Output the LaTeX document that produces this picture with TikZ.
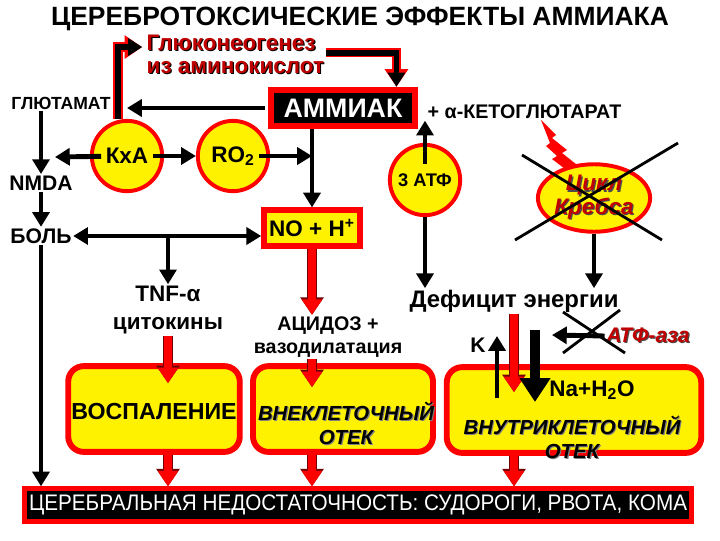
\documentclass[tikz,border=0pt]{standalone}
\usepackage{fontspec}
\setmainfont{Liberation Sans}
\usetikzlibrary{positioning,arrows.meta,shapes.geometric,calc}

\definecolor{dred}{RGB}{192,0,0}
\newcommand{\fsz}[2]{\fontsize{#1}{#2}\selectfont\bfseries}
\newcommand{\shd}[3]{\makebox[0pt][l]{\kern0.8pt\raisebox{-0.8pt}{\color{#1}#3}}{\color{#2}#3}}

\begin{document}
\begin{tikzpicture}[
  x=0.025cm, y=-0.025cm,
  lbl/.style    = {inner sep=1pt, align=center},
  ball/.style   = {circle, draw=red, line width=2.8pt, fill=yellow,
                   minimum size=50pt, inner sep=0pt},
  ybox/.style   = {rectangle, rounded corners=11pt, draw=red, line width=4.2pt,
                   fill=yellow, minimum height=61pt},
  dbox/.style   = {rectangle, draw=red, fill=black, text=white},
  blk/.style    = {line width=3.5pt, -{Triangle[width=12pt,length=10.5pt]}},
  blkk/.style   = {line width=3.5pt,
                   {Triangle[width=12pt,length=10.5pt]}-{Triangle[width=12pt,length=10.5pt]}},
  bigarr/.style = {line width=7pt, -{Triangle[width=21pt,length=17pt]}},
  rarr/.style   = {line width=6pt, red, -{Triangle[width=14pt,length=11pt]},
                   preaction={draw=red!45!black, line width=7.2pt,
                   -{Triangle[width=16pt,length=12.5pt]}}},
  garr/.style   = {line width=4pt, -{Triangle[width=12pt,length=10pt]},
                   preaction={draw=red, line width=6.5pt,
                   -{Triangle[width=16pt,length=12.5pt]}}},
  xline/.style  = {line width=2pt}
]
\useasboundingbox (0,0) rectangle (720,540);

% Title and upper labels
\node[lbl, font=\fsz{18.8}{20}] (title) at (360,19) {ЦЕРЕБРОТОКСИЧЕСКИЕ ЭФФЕКТЫ АММИАКА};
\node[lbl, align=left, anchor=north west, font=\fsz{16}{16.5}] (gluk) at (145,33)
  {\shd{black}{dred}{Глюконеогенез}\\\shd{black}{dred}{из аминокислот}};
\node[dbox, line width=4.2pt, minimum width=102pt, minimum height=26pt,
      font=\fsz{19}{19}] (ammiak) at (343,108) {АММИАК};
\node[lbl, anchor=west, font=\fsz{14}{14}] (keto) at (426,112) {+ α-КЕТОГЛЮТАРАТ};

\node[lbl, font=\fsz{12.5}{13}] (glut) at (61,103) {ГЛЮТАМАТ};
\node[lbl, font=\fsz{15}{15}] (nmda) at (41,183) {NMDA};
\node[lbl, font=\fsz{15}{15}] (bol)  at (41,236) {БОЛЬ};

% Circles
\node[ball, font=\fsz{16}{16}] (kxa) at (127,156) {КхА};
\node[ball, font=\fsz{16}{16}] (ro2) at (233,156) {RO\textsubscript{2}};
\node[ball, font=\fsz{13}{13}] (atf) at (425,180) {3 АТФ};

% Krebs cycle
\fill[red] (541,120) -- (556,135) -- (552,138) -- (567,150) -- (562,153) -- (586,172)
  -- (569,172) -- (552,159) -- (557,156) -- (546,146) -- (550,143) -- cycle;
\node[ellipse, draw=red, line width=2.8pt, fill=yellow, minimum width=76pt,
      minimum height=48pt, inner sep=0pt, align=center,
      font=\fsz{16}{17}\itshape] (krebs) at (594,198)
  {\shd{black!70}{dred}{Цикл}\\\shd{black!70}{dred}{Кребса}};
\draw[xline] (522,155) -- (662,240);
\draw[xline] (515,240) -- (678,143);

\node[draw=red, fill=yellow, line width=4.2pt, minimum width=68pt, minimum height=25pt,
      font=\fsz{16}{16}] (no) at (312,228) {NO + H\textsuperscript{+}};

% Middle labels
\node[lbl, font=\fsz{16}{20}] (tnf) at (168,310) {TNF-α\\цитокины};
\node[lbl, font=\fsz{14}{16.5}] (acid) at (328,337) {АЦИДОЗ +\\вазодилатация};
\node[lbl, font=\fsz{17}{17}] (deficit) at (514,301) {Дефицит энергии};

% Result boxes
\node[ybox, minimum width=122pt] (vosp) at (154,409) {};
\node[ybox, minimum width=128pt] (vnek) at (343,409) {};
\node[ybox, minimum width=181pt] (vnut) at (574,410) {};
\node[lbl, font=\fsz{16.5}{17}] (vosptxt) at (154,412) {ВОСПАЛЕНИЕ};
\node[lbl, font=\fsz{14.5}{17}\itshape] (vnektxt) at (346,424)
  {\shd{black!50}{black}{ВНЕКЛЕТОЧНЫЙ}\\\shd{black!50}{black}{ОТЕК}};
\node[lbl, font=\fsz{14.5}{17}\itshape] (vnuttxt) at (572,438)
  {\shd{black!50}{black}{ВНУТРИКЛЕТОЧНЫЙ}\\\shd{black!50}{black}{ОТЕК}};
\node[lbl, font=\fsz{16}{16}] (na) at (592,390) {Na+H\textsubscript{2}O};
\node[lbl, font=\fsz{15}{15}] (kion) at (478,345) {K};
\node[lbl, font=\fsz{15}{15}\itshape] (atfase) at (648,336) {\shd{black!70}{dred}{АТФ-аза}};

\node[dbox, line width=3.5pt, minimum width=474pt, minimum height=23pt,
      font=\fontsize{16}{16}\selectfont] (cns) at (358,505)
  {\scalebox{0.92}[1]{ЦЕРЕБРАЛЬНАЯ НЕДОСТАТОЧНОСТЬ: СУДОРОГИ, РВОТА, КОМА}};

% Gluconeogenesis loop
\draw[garr, shorten >=2pt] ([xshift=-6.4pt]kxa.north) |- ([yshift=-10pt]gluk.north west);
\draw[garr] ([yshift=-14pt]gluk.north east) -| ([xshift=38pt]ammiak.north);

% Black arrows
\draw[blk, shorten <=2.2pt] (ammiak.west) -- (ammiak.west -| kxa.center);
\draw[blk] (nmda.north |- glut.south) -- (nmda.north);
\draw[blk] (nmda) -- (bol);
\draw[blk] (bol.south) -- (bol.south |- cns.north);
\coordinate (kxaL) at (55,157);
\draw[blk, shorten <=-8pt] (kxa) -- (kxaL);
\draw[blk, shorten <=-8pt] (kxa) -- (ro2);
\draw[blk, shorten <=-8pt] (ro2) -- (ro2 -| no.north);
\draw[blk] (no.north |- ammiak.south) -- (no.north);
\draw[blkk] (bol.east) -- (bol.east -| no.west);
\draw[blk] (tnf.north |- bol.east) -- (tnf.north);
\draw[blk, shorten <=-15pt] (atf) -- (atf |- keto.south);
\draw[blk] (atf) -- (atf |- deficit.north);
\draw[blk] (krebs) -- (krebs |- deficit.north);

% Red arrows
\draw[rarr] (tnf.south) -- ($(tnf.south |- vosp.north)+(0,20)$);
\draw[rarr] (no.south) -- (no |- acid.north);
\draw[rarr] (no |- acid.south) -- ($(no |- vnek.north)+(0,24)$);
\draw[rarr] (deficit.south) -- ($(deficit.south |- vnut.north)+(0,28)$);
\draw[rarr] (tnf |- vosp.south) -- (tnf |- cns.north);
\draw[rarr] (no |- vnek.south) -- (no |- cns.north);
\draw[rarr] (deficit |- vnut.south) -- (deficit |- cns.north);

% Ion flows
\coordinate (kfoot) at (497,398);
\coordinate (ktop)  at (497,336);
\draw[blk] (kfoot) -- (ktop);
\coordinate (natop)  at (535,330);
\coordinate (nafoot) at (535,402);
\draw[bigarr] (natop) -- (nafoot);
\coordinate (atpL) at (552,335);
\draw[blk] (atfase.west) -- (atpL);
\draw[xline] (563,312) -- (625,353);
\draw[xline] (563,353) -- (620,310);
\end{tikzpicture}
\end{document}
